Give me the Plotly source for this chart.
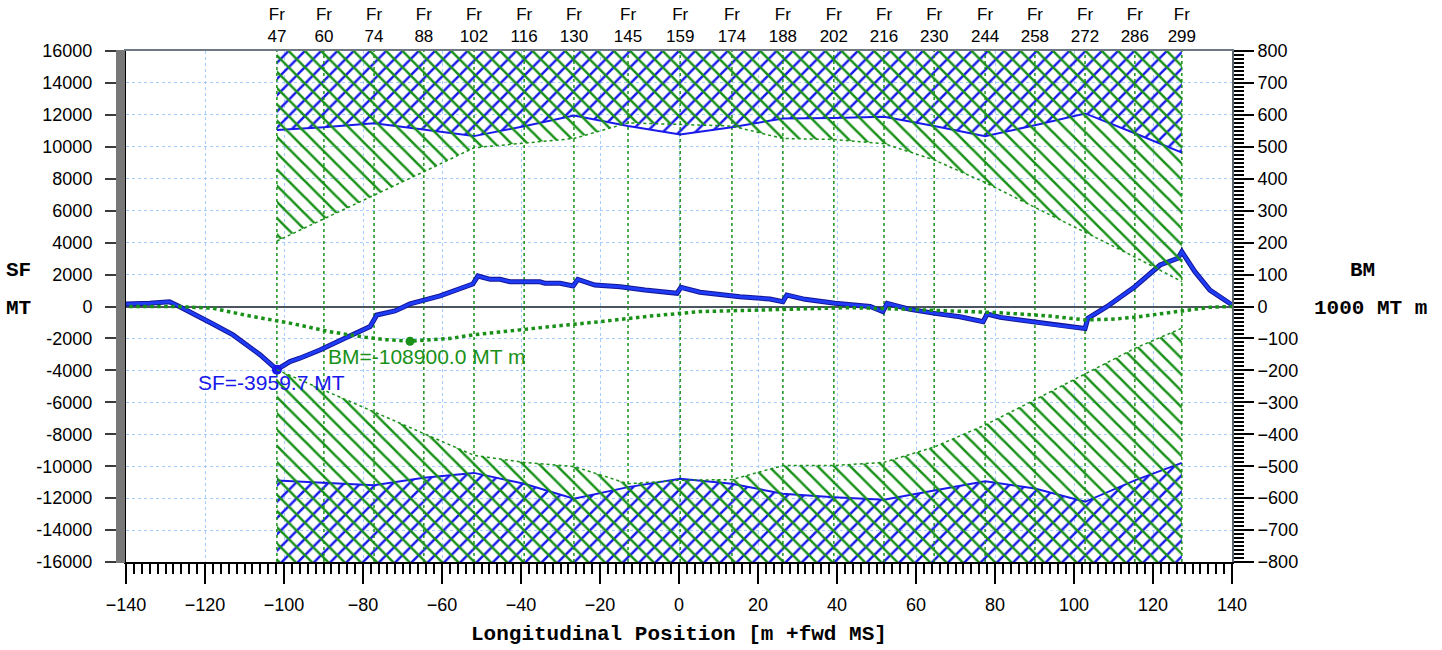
import plotly.graph_objects as go

# ---------------- data ----------------
frames = [47, 60, 74, 88, 102, 116, 130, 145, 159, 174, 188, 202, 216, 230, 244, 258, 272, 286, 299]
frame_pos = [-101.8, -89.9, -77.2, -64.6, -51.9, -39.2, -26.6, -12.9, 0.3, 13.4, 26.3, 39.2,
             51.9, 64.6, 77.5, 90.1, 102.8, 115.4, 127.3]

# allowable shear force limits (MT) at frames
sf_upper = [11050, 11230, 11480, 11100, 10670, 11290, 11960, 11300, 10770, 11230, 11770, 11810,
            11880, 11300, 10670, 11350, 12090, 10850, 9640]
sf_lower = [-10890, -11040, -11200, -10730, -10420, -11100, -12040, -11310, -10790, -11100, -11730,
            -11940, -12100, -11520, -10940, -11400, -12230, -10890, -9790]

# allowable bending moment limits (1000 MT m) at frames
bm_upper = [205, 274, 350, 422, 497, 512, 526, 575, 570, 565, 526, 523, 510, 459, 388, 310, 234, 155, 78]
bm_lower = [-198, -262, -328, -398, -466, -488, -501, -555, -544, -542, -498, -498, -488, -440, -371,
            -292, -212, -131, -68]

# shear force curve (MT)
sf_x = [-144.5, -140, -134, -129, -126.5, -120, -118, -112.9, -106, -101.8, -98.5, -96, -90.9, -84.6,
        -78.2, -76.5, -71.9, -68.1, -60.5, -52.2, -50.9, -47.8, -45.3, -42.8, -35.2, -33.9, -30.1,
        -26.8, -25.6, -21.3, -14.9, -8.6, -0.5, 0.5, 5.3, 15.4, 23, 26.3, 27.3, 31.9, 39.5, 48.4,
        51.6, 52.7, 58.5, 64.8, 71.1, 77, 78, 81.3, 88.9, 96.5, 102.8, 103.5, 108.4, 115.4, 121.8,
        126.3, 127.3, 130.6, 134.4, 140, 145]
sf_v = [0, 150, 200, 300, 0, -800, -1090, -1780, -3030, -3959.7, -3450, -3240, -2720, -1990,
        -1260, -530, -280, 160, 660, 1410, 1910, 1700, 1700, 1550, 1550, 1450, 1450, 1280, 1700,
        1340, 1240, 1030, 830, 1200, 890, 610, 470, 300, 720, 450, 200, 0, -320, 200, -180, -430,
        -640, -950, -470, -680, -950, -1200, -1370, -740, 0, 1240, 2600, 3020, 3430, 2180, 1030,
        100, 0]

# bending moment curve (1000 MT m)
bm_x = [-144.5, -127, -118, -108.6, -98.5, -88.4, -79.5, -74, -68.1, -62, -58, -52.2, -45.3,
        -32.6, -20, -7.3, 5.3, 18, 30.6, 43.3, 56, 68.6, 81.3, 93.9, 102.8, 109.1, 115.4, 121.8,
        129.4, 134.4, 140, 145]
bm_v = [0, 0, -5.5, -30, -52, -79, -96, -104, -108.9, -105, -100, -89, -79, -63, -47.5, -30, -16,
        -11, -7, -3.5, -8, -13, -19.5, -30, -42, -40, -34, -23, -11, -2.5, 0, 0]

sf_min_x, sf_min = -101.8, -3959.7
bm_min_x, bm_min = -68.1, -108.9

x_ticks = list(range(-140, 141, 20))
y_ticks = list(range(-16000, 16001, 2000))
SF_MAX, BM_MAX = 16000, 800

# ---------------- styles ----------------
BLUE = "rgb(25,25,235)"
GREEN = "rgb(25,145,25)"
GRID = "rgb(165,205,255)"
TICKFONT = dict(family="Liberation Sans, Arial, sans-serif", size=18, color="black")
TITLEFONT = dict(family="Liberation Mono, DejaVu Sans Mono, monospace", size=21, color="black")

fig = go.Figure()

def hatch(x, y, ref_max, shape, color, yaxis):
    xs = list(x) + [x[-1], x[0]]
    ys = list(y) + [ref_max, ref_max]
    fig.add_trace(go.Scatter(
        x=xs, y=ys, mode="lines", fill="toself", yaxis=yaxis,
        line=dict(width=0, color="rgba(0,0,0,0)"),
        fillcolor="rgba(0,0,0,0)",
        fillpattern=dict(shape=shape, fgcolor=color, bgcolor="rgba(0,0,0,0)",
                         size=11.5, solidity=0.22, fillmode="replace"),
        hoverinfo="skip", showlegend=False))

# hatched limit regions
hatch(frame_pos, bm_upper, BM_MAX, "\\", GREEN, "y2")
hatch(frame_pos, bm_lower, -BM_MAX, "\\", GREEN, "y2")
hatch(frame_pos, sf_upper, SF_MAX, "/", BLUE, "y")
hatch(frame_pos, sf_lower, -SF_MAX, "/", BLUE, "y")

# frame lines
fx, fy = [], []
for p in frame_pos:
    fx += [p, p, None]
    fy += [-SF_MAX, SF_MAX, None]
fig.add_trace(go.Scatter(x=fx, y=fy, mode="lines", line=dict(color=GREEN, width=1.5, dash="dot"),
                         hoverinfo="skip", showlegend=False))

# limit lines
for arr in (bm_upper, bm_lower):
    fig.add_trace(go.Scatter(x=frame_pos, y=arr, yaxis="y2", mode="lines",
                             line=dict(color=GREEN, width=1.5, dash="dot"), showlegend=False))
for arr in (sf_upper, sf_lower):
    fig.add_trace(go.Scatter(x=frame_pos, y=arr, mode="lines",
                             line=dict(color=BLUE, width=2), showlegend=False))

# BM curve
fig.add_trace(go.Scatter(x=bm_x, y=bm_v, yaxis="y2", mode="lines",
                         line=dict(color=GREEN, width=3.5, dash="dot"), showlegend=False))
# SF curve
fig.add_trace(go.Scatter(x=sf_x, y=sf_v, mode="lines",
                         line=dict(color="rgb(20,20,150)", width=5), showlegend=False))
fig.add_trace(go.Scatter(x=sf_x, y=sf_v, mode="lines",
                         line=dict(color="rgb(30,60,245)", width=3), showlegend=False))

# extreme markers
fig.add_trace(go.Scatter(x=[sf_min_x], y=[sf_min], mode="markers",
                         marker=dict(color=BLUE, size=10), showlegend=False))
fig.add_trace(go.Scatter(x=[bm_min_x], y=[bm_min], yaxis="y2", mode="markers",
                         marker=dict(color=GREEN, size=9), showlegend=False))

# helper traces for top frame axis and left minor-tick axis
fig.add_trace(go.Scatter(x=[frame_pos[0]], y=[0], xaxis="x2", mode="markers",
                         marker=dict(opacity=0), hoverinfo="skip", showlegend=False))
fig.add_trace(go.Scatter(x=[frame_pos[0]], y=[0], yaxis="y3", mode="markers",
                         marker=dict(opacity=0), hoverinfo="skip", showlegend=False))

annots = [
    dict(x=sf_min_x, y=sf_min, xref="x", yref="y", text=f"SF={sf_min:.1f} MT", showarrow=False,
         xanchor="left", yanchor="middle", xshift=-81, yshift=-13,
         font=dict(family="Liberation Sans, Arial", size=21, color=BLUE)),
    dict(x=bm_min_x, y=bm_min, xref="x", yref="y2", text=f"BM={bm_min * 1000:.1f} MT m",
         showarrow=False, xanchor="left", yanchor="middle", xshift=-84, yshift=-15,
         font=dict(family="Liberation Sans, Arial", size=21, color=GREEN)),
    dict(x=0.5, y=-0.141, xref="paper", yref="paper", text="<b>Longitudinal Position [m +fwd MS]</b>",
         showarrow=False, xanchor="center", yanchor="middle", font=TITLEFONT),
    dict(x=-0.097, y=0.571, xref="paper", yref="paper", text="<b>SF</b>", showarrow=False,
         xanchor="center", yanchor="middle", font=TITLEFONT),
    dict(x=-0.097, y=0.497, xref="paper", yref="paper", text="<b>MT</b>", showarrow=False,
         xanchor="center", yanchor="middle", font=TITLEFONT),
    dict(x=1.1184, y=0.571, xref="paper", yref="paper", text="<b>BM</b>", showarrow=False,
         xanchor="center", yanchor="middle", font=TITLEFONT),
    dict(x=1.1248, y=0.497, xref="paper", yref="paper", text="<b>1000 MT m</b>", showarrow=False,
         xanchor="center", yanchor="middle", font=TITLEFONT),
]

fig.update_layout(
    width=1442, height=650,
    margin=dict(l=126, r=210, t=51, b=88),
    paper_bgcolor="white", plot_bgcolor="white",
    showlegend=False,
    annotations=annots,
    xaxis=dict(range=[-140, 140], tickvals=x_ticks, ticks="outside", ticklen=20, tickwidth=2,
               tickcolor="black", showline=True, linecolor="black", linewidth=2,
               showgrid=True, gridcolor=GRID, griddash="dot", gridwidth=1, zeroline=False,
               minor=dict(dtick=2, ticklen=10, tickwidth=1.5, tickcolor="black", showgrid=False),
               tickfont=TICKFONT, ticklabelstandoff=5, automargin=False),
    xaxis2=dict(range=[-140, 140], overlaying="x", side="top", tickvals=frame_pos,
                ticktext=[f"Fr<br>{f}" for f in frames], ticks="", showgrid=False, zeroline=False,
                showline=True, linecolor="rgb(110,120,130)", linewidth=2,
                tickfont=dict(family="Liberation Sans, Arial", size=17, color="black"),
                automargin=False),
    yaxis3=dict(range=[-SF_MAX, SF_MAX], overlaying="y", side="left", anchor="x",
                tickmode="linear", tick0=0, dtick=125, ticks="outside",
                ticklen=9, tickwidth=1.5, tickcolor="rgb(120,120,120)", showticklabels=False,
                showgrid=False, zeroline=False, showline=False, automargin=False),
    yaxis=dict(range=[-SF_MAX, SF_MAX], tickvals=y_ticks, ticktext=[f"{v}\u2002" for v in y_ticks],
               ticks="outside", ticklen=19, tickwidth=2,
               tickcolor="rgb(60,60,60)", showline=True, linecolor="black", linewidth=2,
               showgrid=True, gridcolor=GRID, griddash="dot", gridwidth=1,
               zeroline=True, zerolinecolor="rgb(75,85,95)", zerolinewidth=2,
               tickfont=TICKFONT, automargin=False),
    yaxis2=dict(range=[-BM_MAX, BM_MAX], dtick=100, overlaying="y", side="right", ticks="outside",
                ticklen=20, tickwidth=2, tickcolor="black", showline=True,
                linecolor="rgb(90,100,110)", linewidth=2, showgrid=False, zeroline=False,
                minor=dict(dtick=12.5, ticklen=10, tickwidth=2, tickcolor="black", showgrid=False),
                tickfont=TICKFONT, automargin=False),
)

fig.write_html("out.html")
